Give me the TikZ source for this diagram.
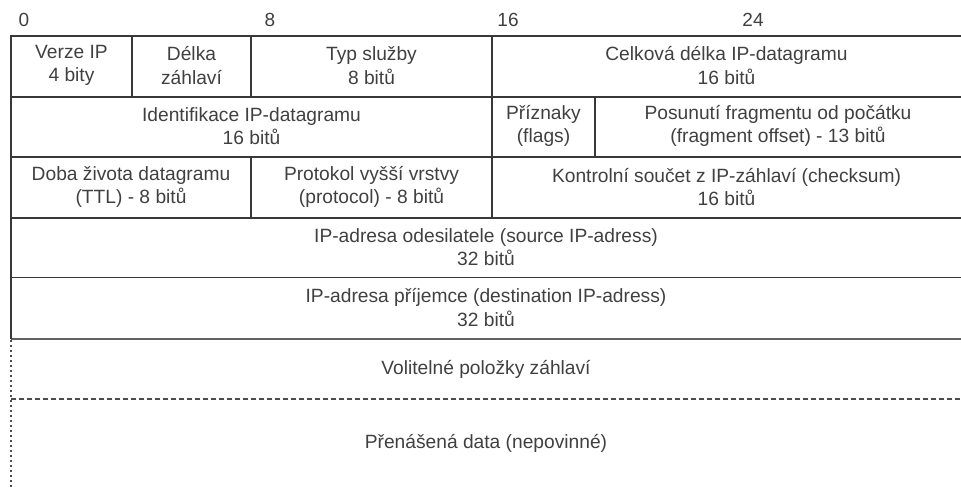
\documentclass[tikz,border=0pt]{standalone}
\usepackage{fontspec}
\setmainfont{Liberation Sans}
\begin{document}
\begin{tikzpicture}[x=1pt,y=-1pt,
  cell/.style={align=center,font=\fontsize{19.2}{23.5}\selectfont,text=black!75,inner sep=0pt},
  bitlabel/.style={font=\fontsize{19}{22}\selectfont,text=black!75,inner sep=0pt},
  gridline/.style={draw=black!78,line width=1.5pt},
  heavyline/.style={draw=black!62,line width=2.8pt},
  dashline/.style={draw=black!70,line width=1.4pt,dash pattern=on 5pt off 3pt},
  dotline/.style={draw=black!70,line width=1.4pt,dash pattern=on 2pt off 3pt}]
\useasboundingbox (0,0) rectangle (961,487);

% bit position labels
\node[bitlabel] (b0) at (24,20) {0};
\node[bitlabel] (b8) at (270,20) {8};
\node[bitlabel] (b16) at (508,20) {16};
\node[bitlabel] (b24) at (753,20) {24};

% horizontal lines
\draw[gridline] (11,36) -- (961,36);
\draw[gridline] (11,97) -- (961,97);
\draw[gridline] (11,157) -- (961,157);
\draw[gridline] (11,218) -- (961,218);
\draw[gridline] (11,277.5) -- (961,277.5);
\draw[heavyline] (11,339) -- (961,339);
\draw[dashline] (11,399) -- (961,399);

% left border
\draw[gridline] (11,35.25) -- (11,339);
\draw[dotline] (11,340) -- (11,487);

% vertical dividers
\draw[gridline] (132,36) -- (132,97);
\draw[gridline] (251,36) -- (251,97);
\draw[gridline] (492,36) -- (492,218);
\draw[gridline] (595,97) -- (595,157);
\draw[gridline] (251,157) -- (251,218);

% row 1
\node[cell] (ver) at (71.5,65.5) {Verze IP\\4 bity};
\node[cell] (hlen) at (191.5,65.5) {Délka\\záhlaví};
\node[cell] (tos) at (371.5,65.5) {Typ služby\\8 bitů};
\node[cell] (tlen) at (726.5,65.5) {Celková délka IP-datagramu\\16 bitů};
% row 2
\node[cell] (id) at (251.5,126) {Identifikace IP-datagramu\\16 bitů};
\node[cell] (flags) at (543.5,126) {Příznaky\\(flags)};
\node[cell] (frag) at (778,126) {Posunutí fragmentu od počátku\\(fragment offset) - 13 bitů};
% row 3
\node[cell] (ttl) at (131,187) {Doba života datagramu\\(TTL) - 8 bitů};
\node[cell] (proto) at (371.5,187) {Protokol vyšší vrstvy\\(protocol) - 8 bitů};
\node[cell] (csum) at (726.5,187) {Kontrolní součet z IP-záhlaví (checksum)\\16 bitů};
% row 4
\node[cell] (src) at (486,247) {IP-adresa odesilatele (source IP-adress)\\32 bitů};
% row 5
\node[cell] (dst) at (486,307.5) {IP-adresa příjemce (destination IP-adress)\\32 bitů};
% options
\node[cell] (opt) at (486,369) {Volitelné položky záhlaví};
% data
\node[cell] (data) at (486,443) {Přenášená data (nepovinné)};
\end{tikzpicture}
\end{document}
